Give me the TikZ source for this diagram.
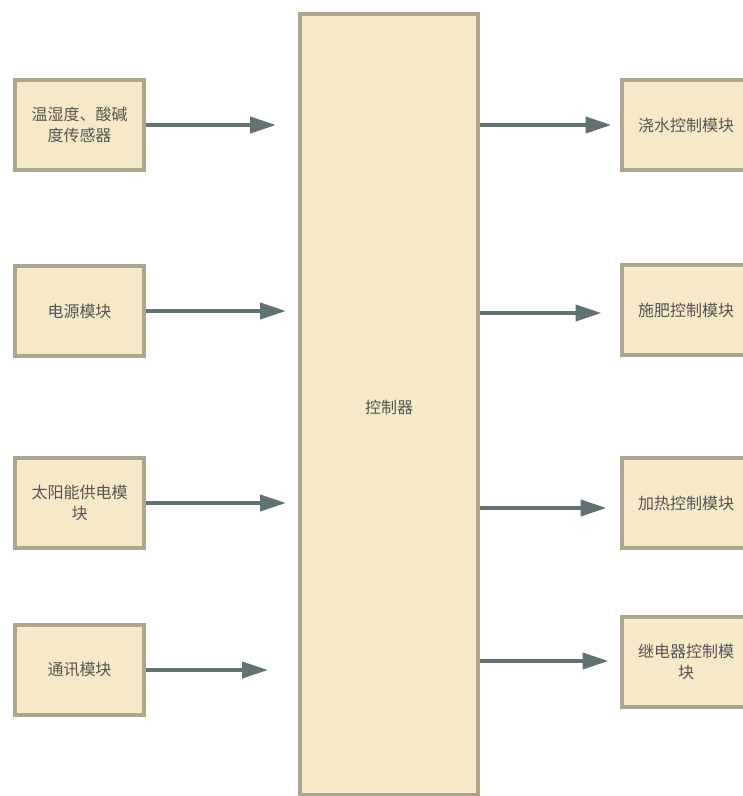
\documentclass[tikz,border=0pt]{standalone}
\usepackage{fontspec}
\newfontfamily\cjk{Noto Sans CJK SC}
\usetikzlibrary{arrows.meta}
\definecolor{boxfill}{HTML}{F5E9C8}
\definecolor{boxline}{HTML}{AEA68C}
\definecolor{arrowcol}{HTML}{607272}
\definecolor{txt}{HTML}{555555}
\tikzset{
  modbox/.style={draw=boxline, fill=boxfill, line width=4pt, minimum width=129pt, minimum height=90pt,
    align=center, inner sep=0pt, font=\cjk\fontsize{16}{21}\selectfont, text=txt},
  link/.style={draw=arrowcol, line width=4pt, -{Triangle[length=26pt,width=16pt]}}
}
\begin{document}
\begin{tikzpicture}[x=1pt,y=-1pt]
\useasboundingbox (0,0) rectangle (743,796);
\clip (0,0) rectangle (743,796);
\fill[white] (0,0) rectangle (743,796);
% controller
\node[modbox, minimum width=178pt, minimum height=781pt, anchor=north] (ctrl) at (389,12) {};
\node[font=\cjk\fontsize{16}{21}\selectfont, text=txt] (ctrltxt) at (389,407) {控制器};
% left modules
\node[modbox] (l1) at (79.5,125) {温湿度、酸碱\\度传感器};
\node[modbox] (l2) at (79.5,311) {电源模块};
\node[modbox] (l3) at (79.5,503) {太阳能供电模\\块};
\node[modbox] (l4) at (79.5,670) {通讯模块};
% right modules
\node[modbox] (r1) at (686,125) {浇水控制模块};
\node[modbox] (r2) at (686,310) {施肥控制模块};
\node[modbox] (r3) at (686,503) {加热控制模块};
\node[modbox] (r4) at (686,662) {继电器控制模\\块};
% arrows in
\draw[link, shorten >=22pt] (l1.east) -- (l1.east -| ctrl.west);
\draw[link, shorten >=12pt] (l2.east) -- (l2.east -| ctrl.west);
\draw[link, shorten >=12pt] (l3.east) -- (l3.east -| ctrl.west);
\draw[link, shorten >=30pt] (l4.east) -- (l4.east -| ctrl.west);
% arrows out
\draw[link, shorten >=8pt] (r1.west -| ctrl.east) -- (r1.west);
\draw[link, shorten >=18pt] ([yshift=-3pt]r2.west -| ctrl.east) -- ([yshift=-3pt]r2.west);
\draw[link, shorten >=13pt] ([yshift=-5pt]r3.west -| ctrl.east) -- ([yshift=-5pt]r3.west);
\draw[link, shorten >=11pt] ([yshift=1pt]r4.west -| ctrl.east) -- ([yshift=1pt]r4.west);
\end{tikzpicture}
\end{document}
